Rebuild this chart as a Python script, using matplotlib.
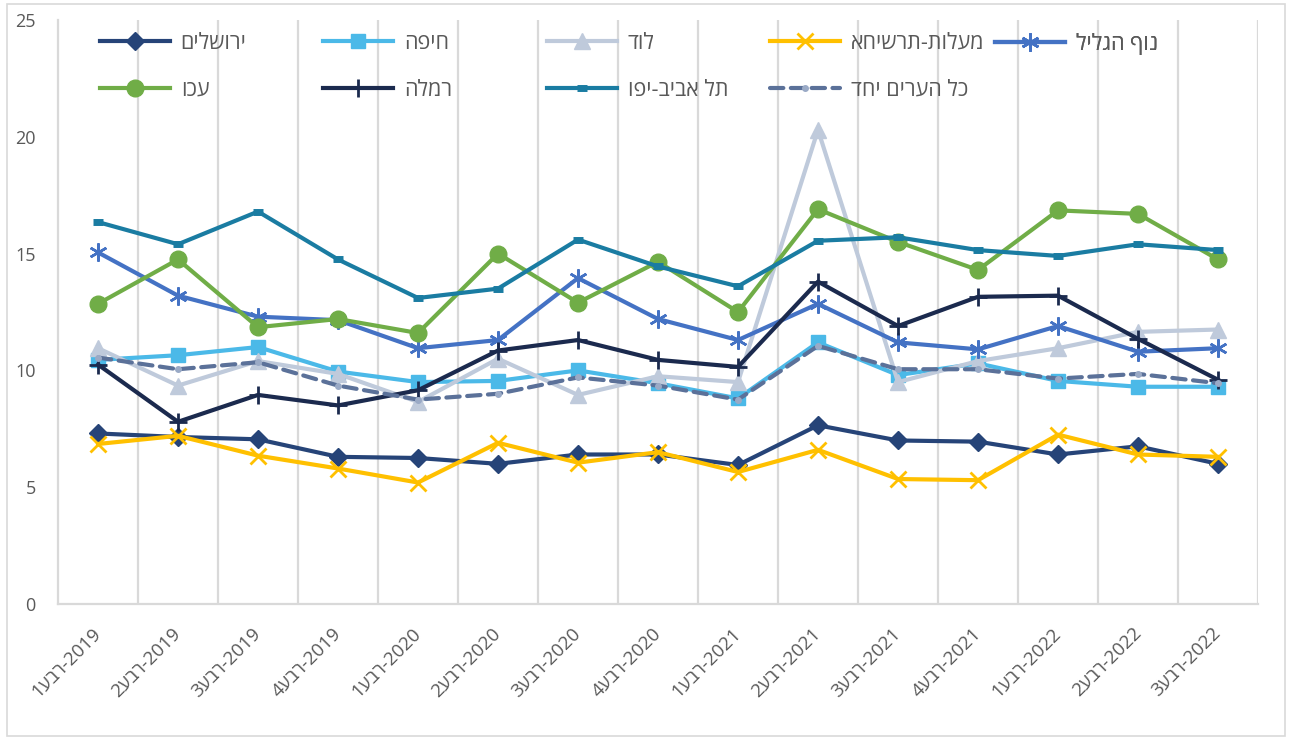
import matplotlib
matplotlib.use('Agg')
import matplotlib.pyplot as plt
import numpy as np
from matplotlib.patches import Rectangle

plt.rcParams['font.family'] = ['Open Sans', 'DejaVu Sans']

quarter_nums = ['1', '2', '3', '4', '1', '2', '3', '4', '1', '2', '3', '4', '1', '2', '3']
years = ['2019', '2019', '2019', '2019', '2020', '2020', '2020', '2020',
         '2021', '2021', '2021', '2021', '2022', '2022', '2022']
quarter_word = 'רבע'

jerusalem = [7.3, 7.15, 7.05, 6.3, 6.25, 6.0, 6.4, 6.4, 5.95, 7.65, 7.0, 6.95, 6.4, 6.75, 6.0]
haifa = [10.45, 10.65, 11.0, 9.95, 9.5, 9.55, 10.0, 9.45, 8.8, 11.2, 9.8, 10.3, 9.55, 9.3, 9.3]
lod = [10.95, 9.35, 10.4, 9.85, 8.65, 10.5, 8.95, 9.75, 9.5, 20.3, 9.5, 10.4, 10.95, 11.65, 11.75]
maalot = [6.85, 7.2, 6.35, 5.8, 5.2, 6.9, 6.05, 6.5, 5.65, 6.6, 5.35, 5.3, 7.25, 6.4, 6.3]
nof_hagalil = [15.05, 13.2, 12.3, 12.15, 10.95, 11.3, 13.95, 12.2, 11.3, 12.85, 11.2, 10.9, 11.9, 10.8, 10.95]
akko = [12.85, 14.75, 11.85, 12.2, 11.6, 15.0, 12.9, 14.65, 12.5, 16.9, 15.5, 14.3, 16.85, 16.7, 14.75]
ramla = [10.25, 7.8, 8.95, 8.5, 9.15, 10.85, 11.3, 10.45, 10.15, 13.8, 11.9, 13.15, 13.2, 11.35, 9.6]
tel_aviv = [16.35, 15.4, 16.8, 14.75, 13.1, 13.5, 15.6, 14.45, 13.6, 15.55, 15.7, 15.15, 14.9, 15.4, 15.15]
all_cities = [10.55, 10.05, 10.35, 9.35, 8.75, 9.0, 9.7, 9.35, 8.75, 11.05, 10.05, 10.05, 9.65, 9.85, 9.45]

names = ['ירושלים', 'חיפה', 'לוד', 'מעלות-תרשיחא', 'נוף הגליל',
         'עכו', 'רמלה', 'תל אביב-יפו', 'כל הערים יחד']
values = [jerusalem, haifa, lod, maalot, nof_hagalil, akko, ramla, tel_aviv, all_cities]


def vis(s):
    # matplotlib has no bidi: reverse Hebrew for right-to-left display
    return s[::-1]


tick_labels = [q + vis(quarter_word) + '-' + y for q, y in zip(quarter_nums, years)]

styles = [
    dict(color='#264478', marker='D', ms=9, mec='#264478'),
    dict(color='#4bb9e8', marker='s', ms=10, mec='#4bb9e8'),
    dict(color='#bfcadb', marker='^', ms=11, mec='#bfcadb'),
    dict(color='#ffc000', marker='x', ms=11, mew=2),
    dict(color='#4472c4', marker=(6, 2, 0), ms=13, mew=1.8),
    dict(color='#70ad47', marker='o', ms=12, mec='#70ad47'),
    dict(color='#1b2a4e', marker='+', ms=13, mew=2),
    dict(color='#1a7ca2', marker='_', ms=7, mew=5),
    dict(color='#5b7199', marker='o', ms=4, mfc='#9aaac6', mec='#9aaac6',
         ls=(0, (3.2, 1.8)), dash_capstyle='round'),
]

W, H = 1291, 739
fig = plt.figure(figsize=(W / 100, H / 100), dpi=100)
ax = fig.add_axes([58 / W, 1 - 604 / H, 1200 / W, 584 / H])

x = np.arange(len(tick_labels))
lines = []
for i, (name, vals, st) in enumerate(zip(names, values, styles)):
    st = dict(st)
    ls = st.pop('ls', '-')
    ln, = ax.plot(x, vals, lw=3, ls=ls, label=vis(name), zorder=3 + i,
                  clip_on=False, **st)
    lines.append(ln)

ax.set_xlim(-0.5, 14.5)
ax.set_ylim(0, 25)
ax.set_yticks([0, 5, 10, 15, 20, 25])
ax.set_xticks(x)
ax.set_xticklabels(tick_labels, rotation=45, ha='right', va='center',
                   rotation_mode='anchor')
ax.set_xticks(np.arange(0.5, 15, 1), minor=True)
ax.grid(axis='x', which='minor', color='#d9d9d9', lw=1.6)
ax.grid(axis='y', visible=False)
ax.tick_params(axis='both', which='both', length=0, labelcolor='#595959')
ax.tick_params(axis='y', pad=16, labelsize=13)
ax.tick_params(axis='x', pad=19, labelsize=13.5)
for s in ['top', 'right']:
    ax.spines[s].set_visible(False)
for s in ['left', 'bottom']:
    ax.spines[s].set_color('#d9d9d9')
    ax.spines[s].set_linewidth(1.6)

# legend: 5 columns, 2 rows
col_x = [100, 323, 547, 770, 995]
cols = [[0, 5], [1, 6], [2, 7], [3, 8], [4]]
for cx, idxs in zip(col_x, cols):
    leg = ax.legend([lines[i] for i in idxs], [vis(names[i]) for i in idxs],
                    loc='upper left', bbox_to_anchor=(cx / W, 1 - 33 / H),
                    bbox_transform=fig.transFigure, frameon=False,
                    borderpad=0, borderaxespad=0, handlelength=3.25,
                    handletextpad=0.5, labelspacing=1.2, fontsize=15.5,
                    labelcolor='#595959')
    ax.add_artist(leg)

fig.patches.append(Rectangle((7 / W, 1 - 736 / H), (1285 - 7) / W, (736 - 4) / H,
                             transform=fig.transFigure, fill=False,
                             ec='#d9d9d9', lw=1.2))

fig.savefig('out.png', dpi=100)
